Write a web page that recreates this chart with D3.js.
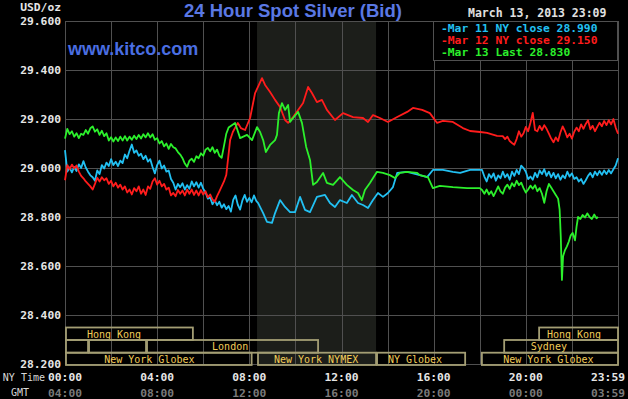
<!DOCTYPE html>
<html><head><meta charset="utf-8">
<script src="https://cdn.jsdelivr.net/npm/d3@7"></script>
<style>html,body{margin:0;padding:0;background:#000;overflow:hidden}</style>
</head><body><svg id="c" width="628" height="399"></svg>
<script>
// ---- data: minutes after 00:00 NY time, USD/oz ----
// "Every6" arrays are readings taken every 6 minutes from the given start minute.
const STEP = 6;
const blueMorningStart = 0;
const blueMorning = [29.073,28.985,29.002,28.982,29.004,28.988,29.015,29.000,29.028,29.002,
 28.985,28.970,28.962,28.948,28.990,28.975,29.012,28.998,29.022,29.008,
 29.036,29.012,29.026,29.008,29.030,29.020,29.055,29.040,29.070,29.096,
 29.062,29.072,29.050,29.058,29.036,29.050,29.026,29.036,29.004,28.978,
 29.012,29.030,28.998,29.010,28.985,28.990,28.955,28.940,28.912,28.935,
 28.922,28.938,28.912,28.930,28.915,28.945,28.925,28.942,28.920,28.940,
 28.915,28.900,28.875,28.880,28.852,28.868,28.848,28.862,28.838,28.852,
 28.832,28.845,28.822,28.870,28.888,28.850,28.830,28.868,28.890,28.862,
 28.878,28.860,28.888,28.866];
const blueDayT = [503,516,526,539,547,560,573,586,599,612,625,638,656,677,690,703,716,734,747,763,776,789,802,815,828,841,854,865,891,924,943,958,984,1010,1029,1055,1086];
const blueDayV = [28.857,28.816,28.780,28.776,28.816,28.869,28.841,28.820,28.820,28.882,28.829,28.820,28.882,28.890,28.857,28.841,28.869,28.857,28.890,28.857,28.849,28.837,28.869,28.898,28.882,28.898,28.922,28.980,28.984,28.971,28.963,28.992,28.992,28.984,28.980,28.992,28.992];
const blueEveningStart = 1092;
const blueEvening = [28.965,28.945,28.975,28.960,28.978,28.948,28.970,28.958,28.985,28.962,
 28.975,28.952,28.985,28.968,28.992,28.975,29.010,29.000,28.985,28.955,
 28.965,28.952,28.980,28.962,28.990,28.975,28.995,28.968,28.985,28.962,
 28.980,28.958,28.975,28.952,28.970,28.958,28.985,28.965,28.978,28.955,
 28.962,28.945,28.955,28.935,28.950,28.968,28.980,28.962,28.985,28.970,
 28.988,28.972,28.990,28.975,28.992,28.978,28.995,29.010,29.040];

const redMorningStart = 0;
const redMorning = [28.950,29.012,28.995,29.014,28.998,29.010,28.985,28.968,28.958,28.945,
 28.935,28.925,28.912,28.935,28.960,28.945,28.962,28.950,28.958,28.935,
 28.948,28.925,28.940,28.920,28.932,28.912,28.925,28.900,28.912,28.892,
 28.918,28.905,28.925,28.895,28.912,28.890,28.925,28.915,28.945,28.958,
 28.932,28.948,28.925,28.935,28.912,28.920,28.888,28.898,28.885,28.910,
 28.895,28.908,28.888,28.912,28.895,28.912,28.890,28.908,28.888,28.910,
 28.892,28.905,28.880,28.892,28.872,28.862,28.885,28.905,28.925,28.945,
 28.972];
const redDayT = [430,437,450,458,469,482,495,513,521,534,547,560,573,581,594,607,620,633,643,656,669,682,703,724,750,776,789,802,820,841,865,891,906,930,950,969,984,1010,1036,1055,1081,1099,1125];
const redDayV = [29.114,29.147,29.184,29.163,29.155,29.204,29.306,29.367,29.339,29.310,29.278,29.249,29.196,29.184,29.208,29.237,29.265,29.331,29.306,29.269,29.278,29.237,29.196,29.224,29.208,29.204,29.188,29.216,29.204,29.188,29.208,29.229,29.245,29.237,29.224,29.184,29.192,29.188,29.163,29.151,29.147,29.143,29.131];
const redEveningStart = 1140;
const redEvening = [29.130,29.118,29.128,29.110,29.102,29.095,29.118,29.150,29.128,29.142,
 29.168,29.150,29.185,29.225,29.155,29.150,29.172,29.155,29.175,29.160,
 29.140,29.120,29.105,29.125,29.110,29.145,29.170,29.150,29.125,29.140,
 29.120,29.148,29.165,29.150,29.178,29.160,29.180,29.195,29.158,29.172,
 29.150,29.168,29.185,29.170,29.192,29.175,29.195,29.178,29.200,29.165,
 29.140];

const greenMorningStart = 0;
const greenMorning = [29.120,29.160,29.138,29.150,29.128,29.142,29.122,29.140,29.135,29.155,
 29.140,29.162,29.170,29.148,29.158,29.135,29.152,29.130,29.142,29.112,
 29.126,29.108,29.125,29.110,29.128,29.112,29.130,29.112,29.128,29.115,
 29.132,29.118,29.135,29.120,29.138,29.125,29.142,29.125,29.138,29.115,
 29.122,29.100,29.110,29.088,29.100,29.078,29.098,29.085,29.080,29.065,
 29.055,29.040,29.018,29.005,29.030,29.038,29.025,29.048,29.040,29.060,
 29.050,29.075,29.082,29.068,29.085,29.062,29.075,29.050,29.042,29.090,
 29.140];
const greenDayT = [426,443,456,474,487,500,508,516,523,534,547,552,557,565,573,581,586,594,607,617,628,638,646,656,672,682,698,716,734,750,763,773,781,794,812,828,846,859,872,891,917,924,945,958,976,1010,1047,1080];
const greenDayV = [29.165,29.184,29.122,29.135,29.114,29.167,29.147,29.114,29.065,29.094,29.114,29.135,29.224,29.265,29.237,29.257,29.188,29.204,29.229,29.184,29.086,29.033,28.931,28.943,28.980,28.939,28.931,28.963,28.931,28.910,28.898,28.869,28.910,28.939,28.984,28.980,28.971,28.959,28.980,28.984,28.980,28.971,28.963,28.918,28.927,28.922,28.918,28.918];
const greenEveningStart = 1086;
const greenEvening = [28.910,28.895,28.912,28.892,28.905,28.885,28.905,28.925,28.905,28.895,
 28.920,28.932,28.915,28.938,28.925,28.948,28.930,28.940,28.918,28.900,
 28.912,28.928,28.915,28.930,28.905,28.918,28.895,28.858,28.905,28.935,
 28.920,28.905,28.890,28.875];
const greenLateT = [1288,1291,1294,1297,1302,1307,1312,1317,1322,1328,1332,1336,1342,1348,1354,1360,1366,1372,1378,1384,1388];
const greenLateV = [28.830,28.720,28.543,28.640,28.665,28.680,28.700,28.725,28.735,28.705,28.760,28.800,28.792,28.808,28.798,28.815,28.800,28.792,28.810,28.795,28.800];

const yTicks = [28.2,28.4,28.6,28.8,29.0,29.2,29.4,29.6];
const xTicks = [0,240,480,720,960,1200,1439];
const nyLabels = ["00:00","04:00","08:00","12:00","16:00","20:00","23:59"];
const gmtLabels = ["04:00","08:00","12:00","16:00","20:00","00:00","03:59"];
const legendLabels = ["Mar 11 NY close 28.990","Mar 12 NY close 29.150","Mar 13 Last 28.830"];
const seriesColors = ["#22c0f2","#ff1c1c","#2cf02c"];
const nymexShade = [500, 810];
// market sessions: [start, end, row, label, labelStart]
const markets = [
  [0,333,0,"Hong Kong",57],[1232,1440,0,"Hong Kong",1255],
  [0,60,1,"",0],[60,211,1,"",0],[211,659,1,"London",383],[1141,1440,1,"Sydney",1213],
  [0,486,2,"New York Globex",102],[500,810,2,"New York NYMEX",544],[810,1042,2,"NY Globex",841],[1083,1440,2,"New York Globex",1141]
];

function every(start, vals){ return vals.map((v,i)=>[start+i*STEP, v]); }
function pairs(ts, vs){ return ts.map((t,i)=>[t, vs[i]]); }
const series = [
  every(blueMorningStart,blueMorning).concat(pairs(blueDayT,blueDayV), every(blueEveningStart,blueEvening)),
  every(redMorningStart,redMorning).concat(pairs(redDayT,redDayV), every(redEveningStart,redEvening)),
  every(greenMorningStart,greenMorning).concat(pairs(greenDayT,greenDayV), every(greenEveningStart,greenEvening), pairs(greenLateT,greenLateV))
];

const svg = d3.select("#c");
const L=65,R=618,T=21,B=364;
const x = d3.scaleLinear().domain([0,1440]).range([L,R]);
const y = d3.scaleLinear().domain([28.2,29.6]).range([B,T]);
const mono = "'DejaVu Sans Mono', monospace";

svg.append("rect").attr("width",628).attr("height",399).attr("fill","#000");
svg.append("rect").attr("x",x(nymexShade[0])).attr("y",T).attr("width",x(nymexShade[1])-x(nymexShade[0])).attr("height",365-T).attr("fill","#1c1e1a");
const grid = svg.append("g").attr("stroke","#505050").attr("stroke-width",1);
yTicks.forEach(v=>grid.append("line").attr("x1",L).attr("x2",R).attr("y1",Math.round(y(v))+0.5).attr("y2",Math.round(y(v))+0.5));
d3.range(0,1441,120).forEach(t=>grid.append("line").attr("x1",Math.round(x(t))+0.5).attr("x2",Math.round(x(t))+0.5).attr("y1",T).attr("y2",365));

svg.append("g").selectAll("text").data(yTicks).join("text")
  .attr("x",61).attr("y",d=>y(d)+4).attr("text-anchor","end")
  .attr("font-family",mono).attr("font-weight","bold").attr("font-size","11.3px").attr("fill","#e6e6e6")
  .text(d=>d3.format(".3f")(d));
svg.append("text").attr("x",61).attr("y",11).attr("text-anchor","end").attr("font-family",mono).attr("font-weight","bold").attr("font-size","11.3px").attr("fill","#e6e6e6").text("USD/oz");

xTicks.forEach((t,i)=>{
  const last = i===xTicks.length-1;
  const xx = last?625:x(t);
  const anc = last?"end":"middle";
  svg.append("text").attr("x",xx).attr("y",381).attr("text-anchor",anc).attr("font-family",mono).attr("font-weight","bold").attr("font-size","11.3px").attr("fill","#e6e6e6").text(nyLabels[i]);
  svg.append("text").attr("x",xx).attr("y",397).attr("text-anchor",anc).attr("font-family",mono).attr("font-weight","bold").attr("font-size","11.3px").attr("fill","#7a7a7a").text(gmtLabels[i]);
});
svg.append("text").attr("x",45).attr("y",381).attr("text-anchor","end").attr("font-family",mono).attr("font-size","10px").attr("fill","#d8d8d8").text("NY Time");
svg.append("text").attr("x",20).attr("y",396).attr("text-anchor","middle").attr("font-family",mono).attr("font-size","10px").attr("fill","#d8d8d8").text("GMT");

const rowY=[327.5,340,352.7], rowH=[12.5,12.7,12.3];
const mg = svg.append("g");
markets.forEach(m=>{
  mg.append("rect").attr("x",x(m[0])+1).attr("y",rowY[m[2]]).attr("width",x(m[1])-x(m[0])-1).attr("height",rowH[m[2]])
    .attr("fill","none").attr("stroke","#a49e74").attr("stroke-width",1.8);
  if(m[3]) mg.append("text").attr("x",x(m[4])).attr("y",rowY[m[2]]+10).attr("font-family",mono).attr("font-size","10px").attr("fill","#f2cc58").text(m[3]);
});

const line = d3.line().x(d=>x(d[0])).y(d=>y(d[1]));
series.forEach((s,i)=>{
  svg.append("path").attr("d",line(s)).attr("fill","none").attr("stroke",seriesColors[i]).attr("stroke-width",1.8).attr("stroke-linejoin","round");
});

svg.append("rect").attr("x",433.5).attr("y",21.5).attr("width",184).attr("height",39).attr("fill","#000").attr("stroke","#505050");
legendLabels.forEach((l,i)=>{
  svg.append("text").attr("x",441).attr("y",31.5+i*12.3).attr("font-family",mono).attr("font-weight","bold").attr("font-size","11.3px").attr("fill",seriesColors[i]).text("-"+l);
});

svg.append("text").attr("x",184).attr("y",17).attr("font-family","'Liberation Sans', Arial, sans-serif").attr("font-weight","bold").attr("font-size","18.5px").attr("fill","#5a78e4").text("24 Hour Spot Silver (Bid)");
svg.append("text").attr("x",68).attr("y",55).attr("font-family","'Liberation Sans', Arial, sans-serif").attr("font-weight","bold").attr("font-size","18px").attr("fill","#4a6ee2").text("www.kitco.com");
svg.append("text").attr("x",468).attr("y",17).attr("font-family",mono).attr("font-weight","bold").attr("font-size","11.5px").attr("fill","#e0e0e0").text("March 13, 2013 23:09");
</script></body></html>
